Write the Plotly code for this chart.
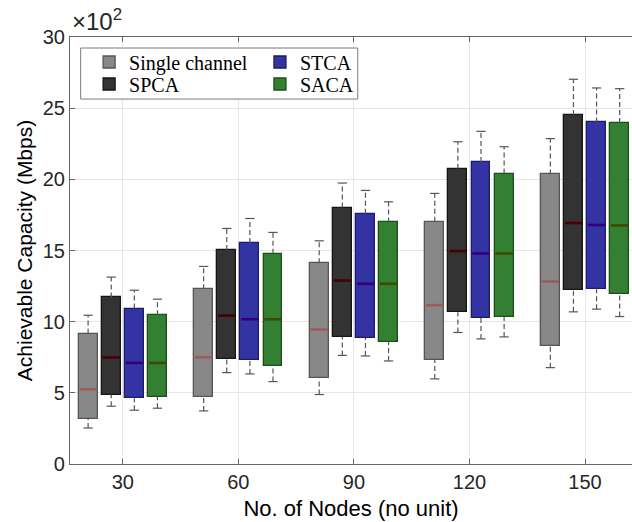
import plotly.graph_objects as go

# ---------------- data (values in units of 10^2 Mbps) ----------------
nodes = [30, 60, 90, 120, 150]
series_names = ["Single channel", "SPCA", "STCA", "SACA"]

single_lo = [2.53, 3.73, 4.88, 5.98, 6.77]
single_q1 = [3.19, 4.71, 6.03, 7.31, 8.30]
single_med = [5.25, 7.50, 9.45, 11.16, 12.82]
single_q3 = [9.16, 12.28, 14.11, 17.02, 20.34]
single_hi = [10.45, 13.88, 15.68, 19.01, 22.86]

spca_lo = [4.06, 6.42, 7.63, 9.24, 10.69]
spca_q1 = [4.88, 7.40, 8.94, 10.67, 12.24]
spca_med = [7.48, 10.43, 12.89, 14.96, 16.93]
spca_q3 = [11.70, 15.03, 18.02, 20.75, 24.52]
spca_hi = [13.13, 16.55, 19.74, 22.64, 27.03]

stca_lo = [3.78, 6.33, 7.59, 8.79, 10.88]
stca_q1 = [4.62, 7.29, 8.86, 10.29, 12.33]
stca_med = [7.10, 10.17, 12.66, 14.79, 16.79]
stca_q3 = [10.92, 15.52, 17.58, 21.22, 24.00]
stca_hi = [12.21, 17.25, 19.22, 23.37, 26.42]

saca_lo = [3.92, 5.79, 7.24, 8.93, 10.36]
saca_q1 = [4.71, 6.87, 8.60, 10.36, 11.96]
saca_med = [7.10, 10.17, 12.66, 14.79, 16.76]
saca_q3 = [10.45, 14.77, 16.97, 20.41, 23.96]
saca_hi = [11.58, 16.27, 18.42, 22.29, 26.37]

y_ticks = [0, 5, 10, 15, 20, 25, 30]

# ---------------- styles ----------------
offsets = [-9, -3, 3, 9]
box_w = 4.9
cap_w = 2.4
fills = ["#888888", "#333333", "#3333a3", "#338033"]
edges = ["#555555", "#151515", "#1c1c66", "#1c4d1c"]
medians = ["#a05a5a", "#4a0000", "#33007a", "#3d4a00"]
legend_ids = ["legend", "legend2", "legend3", "legend4"]
legend_pos = [(0.034, 0.9414), (0.034, 0.8899), (0.338, 0.9414), (0.338, 0.8899)]
whisker_color = "#555555"

data = [
    (single_lo, single_q1, single_med, single_q3, single_hi),
    (spca_lo, spca_q1, spca_med, spca_q3, spca_hi),
    (stca_lo, stca_q1, stca_med, stca_q3, stca_hi),
    (saca_lo, saca_q1, saca_med, saca_q3, saca_hi),
]

fig = go.Figure()

for i, name in enumerate(series_names):
    lo, q1, med, q3, hi = data[i]
    xs = [n + offsets[i] for n in nodes]
    # whiskers (dashed)
    wx, wy = [], []
    for x, a, b, c, d in zip(xs, lo, q1, q3, hi):
        wx += [x, x, None, x, x, None]
        wy += [c, d, None, a, b, None]
    fig.add_trace(go.Scatter(x=wx, y=wy, mode="lines", showlegend=False,
                             hoverinfo="skip",
                             line=dict(color=whisker_color, width=1.2, dash="5px,3px")))
    # caps
    cx, cy = [], []
    for x, a, d in zip(xs, lo, hi):
        cx += [x - cap_w / 2, x + cap_w / 2, None, x - cap_w / 2, x + cap_w / 2, None]
        cy += [d, d, None, a, a, None]
    fig.add_trace(go.Scatter(x=cx, y=cy, mode="lines", showlegend=False,
                             hoverinfo="skip",
                             line=dict(color=whisker_color, width=1.2)))
    # boxes
    fig.add_trace(go.Bar(
        x=xs, y=[b - a for a, b in zip(q1, q3)], base=q1, width=box_w,
        name=name, legend=legend_ids[i],
        marker=dict(color=fills[i], line=dict(color=edges[i], width=1.3)),
    ))
    # medians
    mx, my = [], []
    for x, m in zip(xs, med):
        mx += [x - box_w / 2 + 0.2, x + box_w / 2 - 0.2, None]
        my += [m, m, None]
    fig.add_trace(go.Scatter(x=mx, y=my, mode="lines", showlegend=False,
                             hoverinfo="skip",
                             line=dict(color=medians[i], width=2.6)))

axis_line = "#666666"
tick_font = dict(family="Liberation Sans", size=20, color="#262626")

legend_common = dict(xanchor="left", yanchor="middle", orientation="v",
                     bgcolor="rgba(0,0,0,0)", borderwidth=0,
                     font=dict(family="Liberation Serif", size=20, color="#000000"),
                     itemwidth=30, tracegroupgap=0)
legend_layout = {}
for lid, (lx, ly) in zip(legend_ids, legend_pos):
    legend_layout[lid] = dict(x=lx, y=ly, **legend_common)

fig.update_layout(
    width=632, height=522,
    margin=dict(l=70, r=0, t=37, b=58),
    plot_bgcolor="white", paper_bgcolor="white",
    barmode="overlay",
    bargap=0,
    showlegend=True,
    font=dict(family="Liberation Sans"),
    xaxis=dict(
        range=[16.3, 162.2], tickvals=nodes, ticktext=[str(n) for n in nodes],
        showgrid=True, gridcolor="#e6e6e6", gridwidth=1,
        showline=True, linecolor=axis_line, linewidth=1.2, mirror="ticks",
        ticks="inside", ticklen=5, tickcolor=axis_line, tickwidth=1,
        tickfont=tick_font, zeroline=False,
        title=dict(text="No. of Nodes (no unit)",
                   font=dict(family="Liberation Sans", size=22, color="#000000"),
                   standoff=8),
    ),
    yaxis=dict(
        range=[0, 30], tickvals=y_ticks, ticktext=[str(v) for v in y_ticks],
        showgrid=True, gridcolor="#e6e6e6", gridwidth=1,
        showline=True, linecolor=axis_line, linewidth=1.2, mirror=False,
        ticks="inside", ticklen=5, tickcolor=axis_line, tickwidth=1,
        tickfont=tick_font, zeroline=False,
        title=dict(text="Achievable Capacity (Mbps)",
                   font=dict(family="Liberation Sans", size=21, color="#000000"),
                   standoff=4),
    ),
    shapes=[dict(type="rect", xref="paper", yref="paper",
                 x0=0.019, x1=0.512, y0=0.8547, y1=0.9742,
                 fillcolor="white", line=dict(color="#7a7a7a", width=1),
                 layer="above")],
    annotations=[dict(text="×10<sup>2</sup>", xref="paper", yref="paper",
                      x=0.0, y=1.0, xanchor="left", yanchor="bottom",
                      showarrow=False,
                      font=dict(family="Liberation Sans", size=24, color="#262626"))],
    **legend_layout,
)

fig.write_html("out.html")
